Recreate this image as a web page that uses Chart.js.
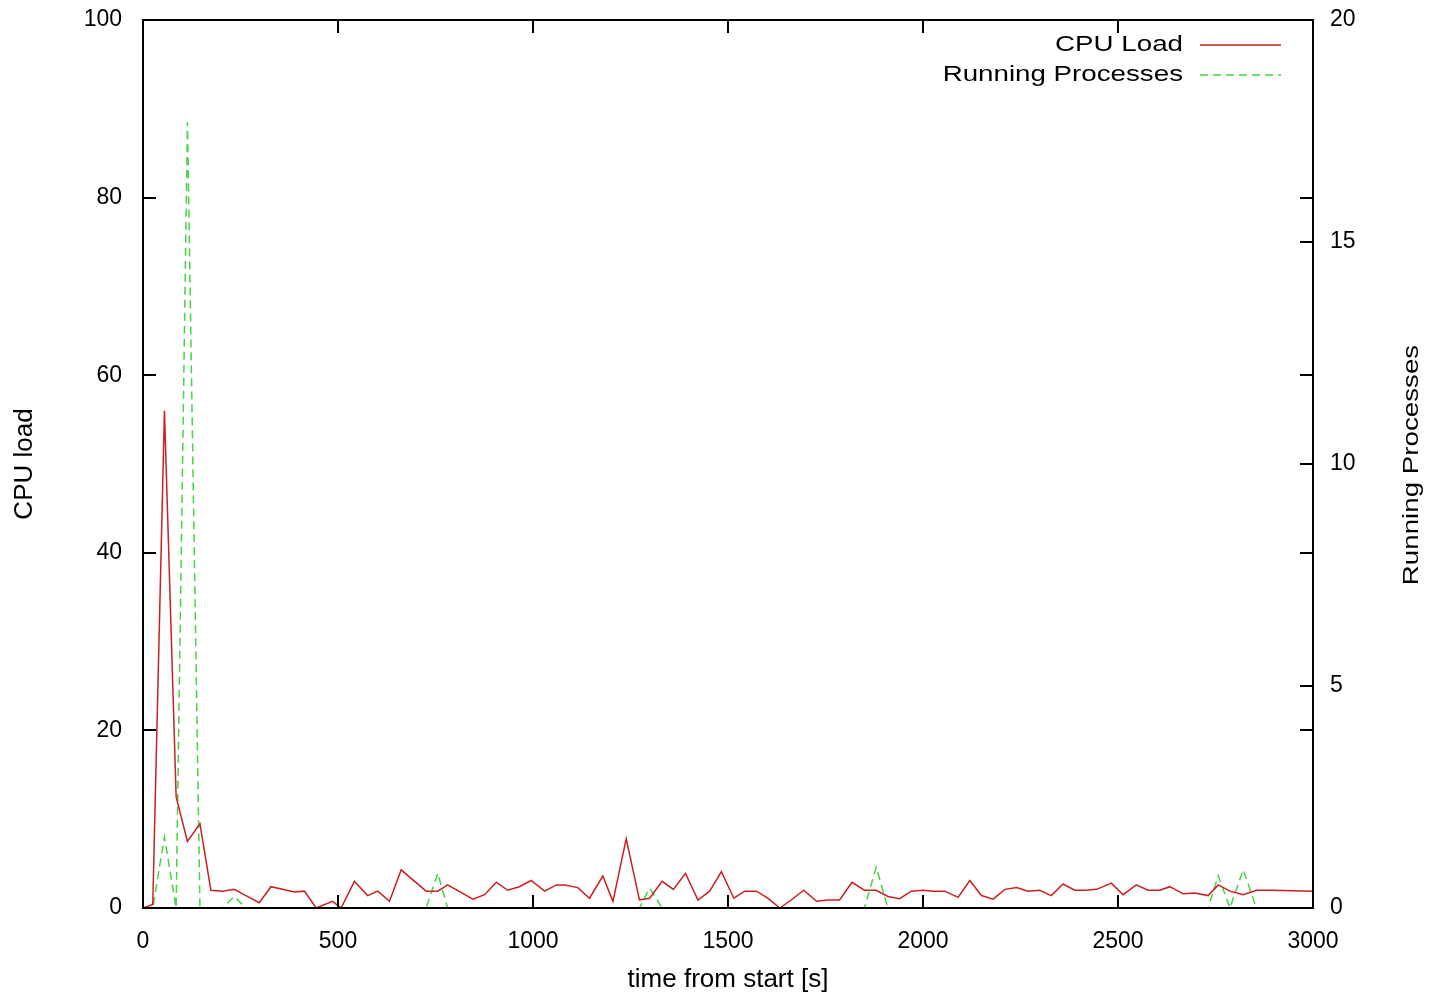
<!DOCTYPE html>
<html>
<head>
<meta charset="utf-8">
<script src="https://cdn.jsdelivr.net/npm/chart.js@4.4.1/dist/chart.umd.min.js"></script>
<style>
  html, body { margin: 0; padding: 0; background: #fff; }
  #chart { display: block; }
</style>
</head>
<body>
<canvas id="chart" width="1431" height="994"></canvas>
<script>
// sample times [s]
const times = [0, 25, 55, 85, 114, 146, 174, 204, 234, 264,
  298, 328, 358, 388, 414, 444, 486, 508, 542, 576,
  602, 632, 662, 726, 756, 781, 846, 876, 906, 935,
  965, 995, 1030, 1060, 1081, 1115, 1145, 1179, 1205, 1239,
  1273, 1299, 1331, 1360, 1391, 1423, 1453, 1483, 1515, 1543,
  1573, 1602, 1633, 1662, 1694, 1727, 1756, 1786, 1818, 1850,
  1880, 1910, 1940, 1970, 2000, 2026, 2056, 2090, 2120, 2150,
  2180, 2210, 2240, 2269, 2299, 2329, 2359, 2389, 2415, 2445,
  2483, 2513, 2547, 2577, 2607, 2633, 2667, 2697, 2731, 2757,
  2787, 2821, 2855, 2890, 2948, 3000];

// CPU load (left axis)
const cpuLoad = [0, 0.4, 56, 12.5, 7.5, 9.5, 2.0, 1.9, 2.1, 1.4,
  0.6, 2.4, 2.1, 1.8, 1.9, 0, 0.75, 0, 3.0, 1.4,
  1.9, 0.75, 4.3, 1.9, 1.9, 2.6, 1.0, 1.5, 2.9, 2.0,
  2.4, 3.1, 1.9, 2.6, 2.6, 2.3, 1.1, 3.6, 0.75, 7.8,
  0.9, 1.1, 3.0, 2.1, 3.9, 0.9, 1.9, 4.1, 1.1, 1.9,
  1.9, 1.1, 0, 0.9, 2.0, 0.75, 0.9, 0.9, 2.9, 2.0,
  2.0, 1.3, 1.05, 1.9, 2.0, 1.9, 1.9, 1.2, 3.1, 1.4,
  1.0, 2.1, 2.3, 1.9, 2.0, 1.4, 2.7, 2.0, 2.0, 2.1,
  2.8, 1.5, 2.6, 2.0, 2.0, 2.4, 1.6, 1.7, 1.4, 2.6,
  1.9, 1.5, 2.0, 2.0, 1.95, 1.9];

// running processes (right axis)
const runningProcs = [0, 0, 1.6, 0, 17.7, 0, 0, 0, 0.26, 0,
  0, 0, 0, 0, 0, 0, 0, 0, 0, 0,
  0, 0, 0, 0, 0.78, 0, 0, 0, 0, 0,
  0, 0, 0, 0, 0, 0, 0, 0, 0, 0,
  0, 0.45, 0, 0, 0, 0, 0, 0, 0, 0,
  0, 0, 0, 0, 0, 0, 0, 0, 0, 0,
  0.92, 0, 0, 0, 0, 0, 0, 0, 0, 0,
  0, 0, 0, 0, 0, 0, 0, 0, 0, 0,
  0, 0, 0, 0, 0, 0, 0, 0, 0, 0.73,
  0, 0.86, 0, 0, 0, 0];

const xTicks = [0, 500, 1000, 1500, 2000, 2500, 3000];
const yTicks = [0, 20, 40, 60, 80, 100];
const y2Ticks = [0, 5, 10, 15, 20];

const FONT = "'Liberation Sans', Arial, Helvetica, sans-serif";
const RED = '#cc1f1f';
const GREEN = '#44d444';

function pts(ys) {
  return times.map((t, i) => ({ x: t, y: ys[i] }));
}

function setTicks(list) {
  return function(scale) {
    scale.ticks = list.map(v => ({ value: v }));
  };
}

// keep the plot box where the reference has it
function fixBox(size) {
  return function(scale) {
    if (scale.isHorizontal()) scale.height = size;
    else scale.width = size;
    scale.paddingTop = 0;
    scale.paddingBottom = 0;
    scale.paddingLeft = 0;
    scale.paddingRight = 0;
  };
}

// gnuplot style frame with inward ticks, drawn over the data
const framePlugin = {
  id: 'frame',
  afterDatasetsDraw(chart) {
    const ctx = chart.ctx;
    const a = chart.chartArea;
    const sx = chart.scales.x, sy = chart.scales.y, sy2 = chart.scales.y2;
    const len = 13;
    ctx.save();
    ctx.strokeStyle = '#000';
    ctx.lineWidth = 2;
    ctx.strokeRect(a.left, a.top, a.right - a.left, a.bottom - a.top);
    ctx.beginPath();
    xTicks.forEach(v => {
      const px = Math.round(sx.getPixelForValue(v));
      ctx.moveTo(px, a.bottom); ctx.lineTo(px, a.bottom - len);
      ctx.moveTo(px, a.top); ctx.lineTo(px, a.top + len);
    });
    yTicks.forEach(v => {
      const py = Math.round(sy.getPixelForValue(v));
      ctx.moveTo(a.left, py); ctx.lineTo(a.left + len, py);
      ctx.moveTo(a.right, py); ctx.lineTo(a.right - len, py);
    });
    y2Ticks.forEach(v => {
      const py = Math.round(sy2.getPixelForValue(v));
      ctx.moveTo(a.right, py); ctx.lineTo(a.right - len, py);
    });
    ctx.stroke();

    // legend, text right aligned with line sample on the right
    ctx.fillStyle = '#000';
    ctx.textAlign = 'right';
    ctx.textBaseline = 'middle';
    ctx.font = '22px ' + FONT;
    const rows = [45, 75];
    chart.data.datasets.forEach((ds, i) => {
      const y = rows[i];
      ctx.save();
      ctx.translate(1183, y);
      ctx.scale(1.26, 1);
      ctx.fillText(ds.label, 0, 0);
      ctx.restore();
      ctx.beginPath();
      ctx.strokeStyle = ds.borderColor;
      ctx.lineWidth = 1.5;
      ctx.setLineDash(ds.borderDash || []);
      ctx.moveTo(1200, y);
      ctx.lineTo(1281, y);
      ctx.stroke();
      ctx.setLineDash([]);
    });

    // right axis title, reading upwards
    ctx.save();
    ctx.translate(1412, 465);
    ctx.rotate(-Math.PI / 2);
    ctx.textAlign = 'center';
    ctx.font = '22px ' + FONT;
    ctx.scale(1.26, 1);
    ctx.fillText('Running Processes', 0, 0);
    ctx.restore();
    ctx.restore();
  }
};

const plainLabel = v => String(v);

new Chart(document.getElementById('chart'), {
  type: 'line',
  data: {
    datasets: [
      {
        label: 'CPU Load',
        data: pts(cpuLoad),
        yAxisID: 'y',
        borderColor: RED,
        borderWidth: 1.5,
        pointRadius: 0,
        tension: 0
      },
      {
        label: 'Running Processes',
        data: pts(runningProcs),
        yAxisID: 'y2',
        borderColor: GREEN,
        borderWidth: 1.5,
        borderDash: [8, 5],
        pointRadius: 0,
        tension: 0
      }
    ]
  },
  options: {
    responsive: false,
    animation: false,
    layout: { padding: { top: 20, left: 0, right: 0, bottom: 0 } },
    plugins: {
      legend: { display: false },
      tooltip: { enabled: false }
    },
    scales: {
      x: {
        type: 'linear',
        min: 0,
        max: 3000,
        afterBuildTicks: setTicks(xTicks),
        afterFit: fixBox(86),
        grid: { display: false, drawTicks: false },
        border: { display: false },
        ticks: { color: '#000', padding: 20, maxRotation: 0, callback: plainLabel, font: { family: FONT, size: 23 } },
        title: {
          display: true,
          text: 'time from start [s]',
          color: '#000',
          padding: { top: 0, bottom: 1 },
          font: { family: FONT, size: 26, lineHeight: 1 }
        }
      },
      y: {
        type: 'linear',
        position: 'left',
        min: 0,
        max: 100,
        afterBuildTicks: setTicks(yTicks),
        afterFit: fixBox(143),
        grid: { display: false, drawTicks: false },
        border: { display: false },
        ticks: { color: '#000', padding: 21, callback: plainLabel, font: { family: FONT, size: 23 } },
        title: {
          display: true,
          text: 'CPU load',
          color: '#000',
          padding: { top: 12, bottom: 0 },
          font: { family: FONT, size: 26, lineHeight: 1 }
        }
      },
      y2: {
        type: 'linear',
        position: 'right',
        min: 0,
        max: 20,
        afterBuildTicks: setTicks(y2Ticks),
        afterFit: fixBox(118),
        grid: { display: false, drawTicks: false },
        border: { display: false },
        ticks: { color: '#000', padding: 17, callback: plainLabel, font: { family: FONT, size: 23 } }
      }
    }
  },
  plugins: [framePlugin]
});
</script>
</body>
</html>
